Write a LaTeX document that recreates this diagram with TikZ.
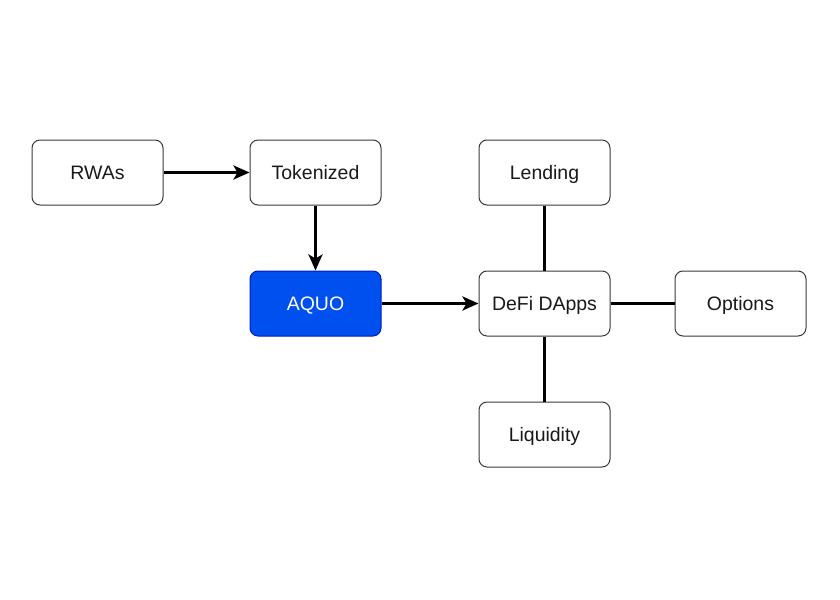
\documentclass[tikz,border=0pt]{standalone}
\usepackage{fontspec}
\setmainfont{Liberation Sans}
\usetikzlibrary{arrows.meta}
\definecolor{aquoblue}{HTML}{0050EF}
\definecolor{aquoedge}{HTML}{001DBC}
\definecolor{boxedge}{HTML}{36393D}
\begin{document}
\begin{tikzpicture}[x=0.75pt,y=-0.75pt,
  box/.style={draw=boxedge,line width=0.75pt,fill=white,rounded corners=6pt,
    minimum width=98.25pt,minimum height=48.75pt,inner sep=0pt,
    text height=10.3pt,text depth=0pt,
    font=\fontsize{14.6pt}{16pt}\selectfont,text=black!90},
  bluebox/.style={box,draw=aquoedge,fill=aquoblue,text=white},
  conn/.style={line width=2.25pt,draw=black},
  arr/.style={conn,-{Stealth[length=12pt,width=10.5pt,inset=3pt]}}]
\useasboundingbox (0,0) rectangle (840,600);
\node[box] (rwa) at (97.5,172.5) {RWAs};
\node[box] (tok) at (315.5,172.5) {Tokenized};
\node[bluebox] (aquo) at (315.5,303.5) {AQUO};
\node[box] (defi) at (544.5,303.5) {DeFi DApps};
\node[box] (lend) at (544.5,172.5) {Lending};
\node[box] (opt) at (740.5,303.5) {Options};
\node[box] (liq) at (544.5,434.5) {Liquidity};
\draw[arr] (rwa) -- (tok);
\draw[arr] (tok) -- (aquo);
\draw[arr] (aquo) -- (defi);
\draw[conn] (lend) -- (defi);
\draw[conn] (defi) -- (opt);
\draw[conn] (defi) -- (liq);
\end{tikzpicture}
\end{document}
